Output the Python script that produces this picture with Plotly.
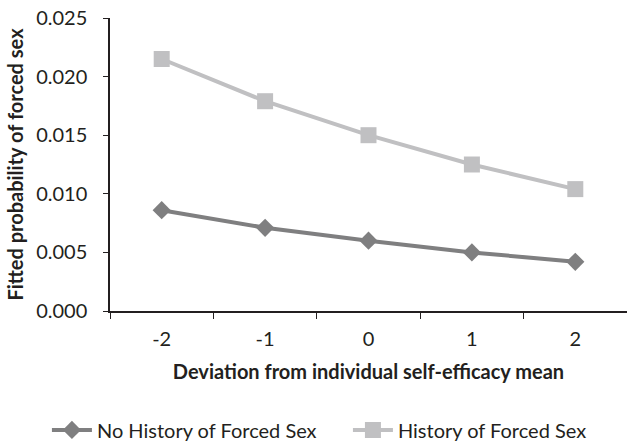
import plotly.graph_objects as go

categories = ["-2", "-1", "0", "1", "2"]
no_history = [0.0086, 0.0071, 0.0060, 0.0050, 0.0042]
history = [0.0215, 0.0179, 0.0150, 0.0125, 0.0104]
y_ticks = [0.0, 0.005, 0.010, 0.015, 0.020, 0.025]

FONT = "Lato"
INK = "#231f20"

fig = go.Figure()
fig.add_trace(go.Scatter(
    x=categories, y=no_history, name="No History of Forced Sex",
    mode="lines+markers",
    line=dict(color="#7f7f80", width=4),
    marker=dict(symbol="diamond", size=14, color="#7f7f80"),
))
fig.add_trace(go.Scatter(
    x=categories, y=history, name="History of Forced Sex",
    mode="lines+markers",
    line=dict(color="#c0c0c2", width=4),
    marker=dict(symbol="square", size=16, color="#c0c0c2"),
))

fig.update_layout(
    width=627, height=442,
    margin=dict(l=110, r=0, t=18, b=131, autoexpand=False),
    paper_bgcolor="white", plot_bgcolor="white",
    font=dict(family=FONT, size=20, color=INK),
    showlegend=True,
    legend=dict(orientation="h", x=-0.122, xanchor="left",
                y=-0.406, yanchor="middle",
                font=dict(size=20), itemwidth=40, entrywidth=246,
                traceorder="normal"),
    xaxis=dict(
        type="category", tickson="boundaries", ticks="outside", ticklen=6,
        tickcolor=INK, showline=True, linecolor=INK, linewidth=2,
        showgrid=False, zeroline=False, automargin=False,
        range=[-0.5, 4.5], ticklabelstandoff=9,
        title=dict(text="<b>Deviation from individual self-efficacy mean</b>",
                   font=dict(size=20), standoff=16),
    ),
    yaxis=dict(
        range=[0, 0.025], tickvals=y_ticks, tickformat=".3f",
        ticks="outside", ticklen=5, tickcolor=INK,
        showline=True, linecolor=INK, linewidth=1.5,
        showgrid=False, zeroline=False, automargin=False,
        ticklabelstandoff=12, ticklabeloverflow="allow",
        title=dict(text="<b>Fitted probability of forced sex</b>",
                   font=dict(size=20), standoff=7),
    ),
)

fig.write_html("out.html",
               config={"displayModeBar": False},
               post_script="document.body.style.margin='0px';"
                           "document.body.style.overflow='hidden';")
